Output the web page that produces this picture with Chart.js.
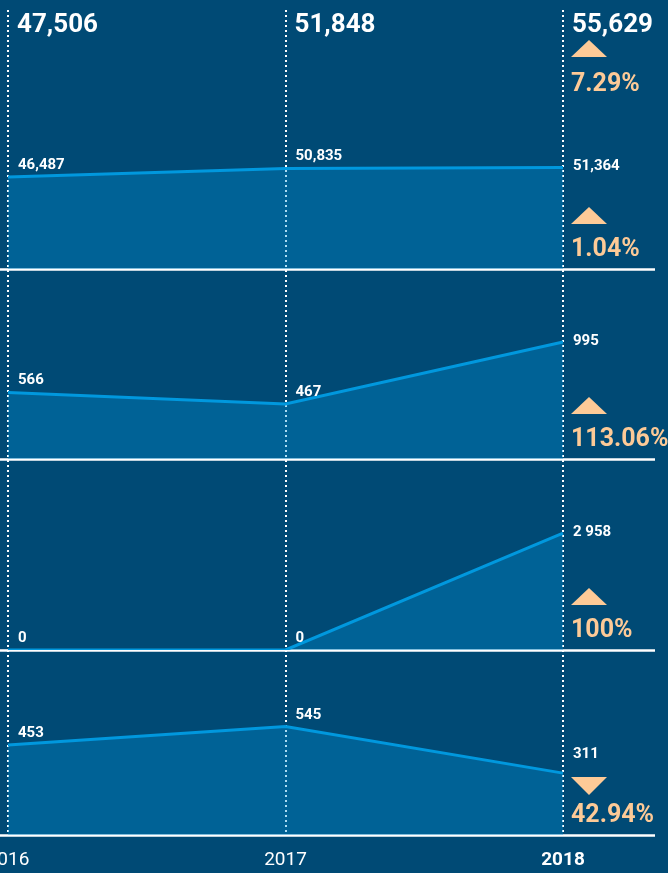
<!DOCTYPE html>
<html>
<head>
<meta charset="utf-8">
<script src="https://cdn.jsdelivr.net/npm/chart.js@4"></script>
<style>
    html, body { margin: 0; padding: 0; background: #004a75; }
</style>
</head>
<body>
<canvas id="grafico" width="668" height="873"></canvas>
<script>
// data
const years = ['2016', '2017', '2018']
const totals = [47506, 51848, 55629]
const totalChange = 7.29

const series1 = [46487, 50835, 51364]
const series2 = [566, 467, 995]
const series3 = [0, 0, 2958]
const series4 = [453, 545, 311]

const changes = [1.04, 113.06, 100, 42.94]
const directions = ['up', 'up', 'up', 'down']
const separators = [',', ',', ' ', ',']

// top of each panel's value axis
const panelMax = [131000, 1615, 4830, 930]

const allSeries = [series1, series2, series3, series4]

const lineColor = '#0098de'
const fillColor = 'rgba(0, 150, 220, 0.33)'
const peach = '#fdca97'

function fmt(v, sep) {
    return String(v).replace(/\B(?=(\d{3})+(?!\d))/g, sep)
}

function triangle(ctx, x, y, dir) {
    ctx.beginPath()
    if (dir == 'up') {
        ctx.moveTo(x, y + 17)
        ctx.lineTo(x + 18, y)
        ctx.lineTo(x + 36, y + 17)
    } else {
        ctx.moveTo(x, y)
        ctx.lineTo(x + 36, y)
        ctx.lineTo(x + 18, y + 18)
    }
    ctx.closePath()
    ctx.fill()
}

const panelPlugin = {
    id: 'panelPlugin',
    beforeDatasetsDraw(chart) {
        const ctx = chart.ctx
        ctx.save()
        ctx.strokeStyle = '#ffffff'
        ctx.lineWidth = 2.5
        for (let i = 0; i < 4; i++) {
            const y = chart.scales['y' + (i + 1)].bottom + 0.5
            ctx.beginPath()
            ctx.moveTo(0, y)
            ctx.lineTo(655, y)
            ctx.stroke()
        }
        ctx.restore()
    },
    afterDatasetsDraw(chart) {
        const ctx = chart.ctx
        const xs = chart.scales.x
        const top = chart.chartArea.top
        ctx.save()

        // totals on top
        ctx.fillStyle = '#ffffff'
        ctx.font = 'bold 26px Roboto'
        ctx.textBaseline = 'alphabetic'
        totals.forEach((t, j) => {
            ctx.fillText(fmt(t, ','), xs.getPixelForValue(j) + 9, top + 22)
        })

        const xLast = xs.getPixelForValue(2)
        ctx.fillStyle = peach
        triangle(ctx, xLast + 8, top + 30, 'up')
        ctx.font = 'bold 25px Roboto'
        ctx.fillText(totalChange + '%', xLast + 8, top + 81)

        // point labels, arrows and percentages of each panel
        allSeries.forEach((values, i) => {
            const ys = chart.scales['y' + (i + 1)]
            const bottom = ys.bottom

            ctx.fillStyle = '#ffffff'
            ctx.font = 'bold 15px Roboto'
            values.forEach((v, j) => {
                const px = xs.getPixelForValue(j)
                const py = ys.getPixelForValue(v)
                const label = fmt(v, separators[i])
                if (j < 2) {
                    ctx.textBaseline = 'alphabetic'
                    ctx.fillText(label, px + 10, py - 8)
                } else {
                    ctx.textBaseline = 'middle'
                    ctx.fillText(label, px + 10, Math.min(py - 1, bottom - 81))
                }
            })

            ctx.fillStyle = peach
            ctx.textBaseline = 'alphabetic'
            if (directions[i] == 'up') {
                triangle(ctx, xLast + 8, bottom - 62, 'up')
            } else {
                triangle(ctx, xLast + 8, bottom - 58, 'down')
            }
            ctx.font = 'bold 25px Roboto'
            ctx.fillText(changes[i] + '%', xLast + 8, bottom - 13)
        })

        ctx.restore()
    }
}

const ctx = document.getElementById('grafico').getContext('2d')

const panelHeights = [259, 190, 191, 185]

const yScales = {}
panelMax.forEach((m, i) => {
    yScales['y' + (i + 1)] = {
        display: false,
        min: 0,
        max: m,
        stack: 'panels',
        stackWeight: panelHeights[i],
        weight: 4 - i
    }
})

const grafico = new Chart(ctx, {
    type: 'line',
    data: {
        labels: years,
        datasets: allSeries.map((values, i) => ({
            label: 'serie ' + (i + 1),
            data: values,
            yAxisID: 'y' + (i + 1),
            borderColor: lineColor,
            borderWidth: 3,
            backgroundColor: fillColor,
            fill: 'origin',
            pointRadius: 0,
            tension: 0
        }))
    },
    plugins: [panelPlugin],
    options: {
        responsive: false,
        animation: false,
        devicePixelRatio: 1,
        layout: {
            padding: { left: 8, right: 105, top: 10, bottom: 0 }
        },
        plugins: {
            legend: { display: false },
            tooltip: { enabled: false }
        },
        scales: {
            x: {
                offset: false,
                grid: {
                    color: '#ffffff',
                    lineWidth: 2,
                    drawTicks: false
                },
                border: { display: false, dash: [2, 3] },
                ticks: {
                    color: '#ffffff',
                    padding: 14,
                    maxRotation: 0,
                    autoSkip: false,
                    font: c => ({
                        family: 'Roboto',
                        size: 19,
                        weight: c.index == 2 ? 'bold' : 'normal'
                    })
                },
                afterFit(scale) {
                    scale.paddingLeft = 0
                    scale.paddingRight = 0
                    scale.height = 38
                }
            },
            ...yScales
        }
    }
})
</script>
</body>
</html>
